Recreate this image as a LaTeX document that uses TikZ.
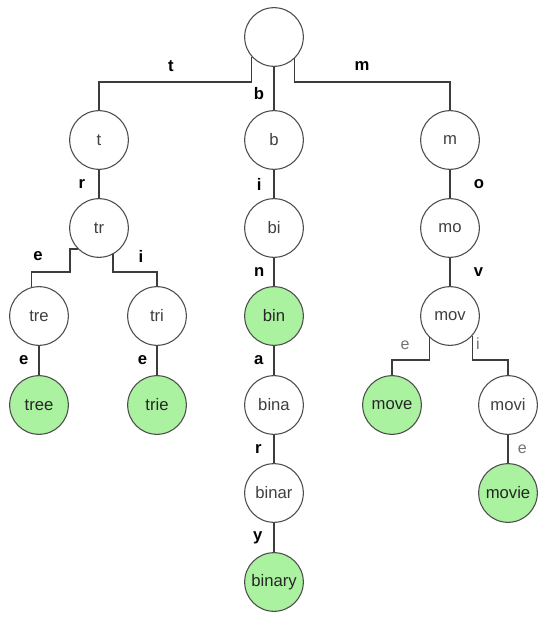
\documentclass[tikz,border=0pt]{standalone}
\usepackage{fontspec}
\setmainfont{Liberation Sans}
\usepackage{tikz}
\definecolor{wordgreen}{RGB}{170,242,160}
\definecolor{linkgray}{RGB}{60,60,60}

\begin{document}
\begin{tikzpicture}[x=0.75pt,y=-0.75pt]
	\tikzstyle{vertex}=[circle,draw=black!70,line width=0.8pt,fill=white,minimum size=44pt,inner sep=0pt,font=\fontsize{12.5}{14}\selectfont,text=black!75]
	\tikzstyle{word}=[vertex,fill=wordgreen,text=black!85]
	\tikzstyle{link}=[draw=linkgray,line width=1.1pt]
	\tikzstyle{letter}=[font=\fontsize{12.5}{14}\selectfont\bfseries,text=black]
	\tikzstyle{faint}=[font=\fontsize{12}{14}\selectfont,text=black!55]
	\useasboundingbox (0,0) rectangle (551,627);
	% the trie, row by row
	\node[vertex](root) at (274,37) {};
	\node[vertex](t) at (99,140) {t};
	\node[vertex](b) at (274,140) {b};
	\node[vertex](m) at (450,140) {m};
	\node[vertex](tr) at (99,228) {tr};
	\node[vertex](bi) at (274,228) {bi};
	\node[vertex](mo) at (450,228) {mo};
	\node[vertex](tre) at (39,316) {tre};
	\node[vertex](tri) at (157,316) {tri};
	\node[word](bin) at (274,316) {bin};
	\node[vertex](mov) at (450,316) {mov};
	\node[word](tree) at (39,405) {tree};
	\node[word](trie) at (157,405) {trie};
	\node[vertex](bina) at (274,405) {bina};
	\node[word](move) at (392,405) {move};
	\node[vertex](movi) at (508,405) {movi};
	\node[vertex](binar) at (274,493) {binar};
	\node[word](movie) at (508,493) {movie};
	\node[word](binary) at (274,582) {binary};
	\coordinate (rootbar) at (0,82);
	\coordinate (trbar) at (0,272);
	\coordinate (movbar) at (0,360);
	% straight links
	\path[link]
		(root) edge node[letter,left=3.5pt,pos=0.62]{b} (b)
		(t) edge node[letter,left=6.5pt]{r} (tr)
		(b) edge node[letter,left=5.5pt]{i} (bi)
		(m) edge node[letter,right=14pt]{o} (mo)
		(bi) edge node[letter,left=3.3pt]{n} (bin)
		(mo) edge node[letter,right=14pt]{v} (mov)
		(tre) edge node[letter,left=4pt]{e} (tree)
		(tri) edge node[letter,left=3.5pt]{e} (trie)
		(bin) edge node[letter,left=4pt]{a} (bina)
		(bina) edge node[letter,left=5.5pt]{r} (binar)
		(binar) edge node[letter,left=4.8pt]{y} (binary)
		(movi) edge node[faint,right=3.5pt]{e} (movie);
	% bent links
	\draw[link] (root.221) |- (t |- rootbar) -- (t);
	\draw[link] (root.314) |- (m |- rootbar) -- (m);
	\draw[link] (tr.225) -- ++(-8,0) |- (tre.105 |- trbar) -- (tre.105);
	\draw[link] (tr.298) |- (tri |- trbar) -- (tri);
	\draw[link] (mov.226) |- (move |- movbar) -- (move);
	\draw[link] (mov.319) |- (movi |- movbar) -- (movi);
	\node[letter](lt) at (171,66) {t};
	\node[letter](lm) at (362,66) {m};
	\node[letter](le) at (38,256) {e};
	\node[letter](li) at (141,256) {i};
	\node[faint](lmove) at (405,345) {e};
	\node[faint](lmovi) at (478,344) {i};
\end{tikzpicture}
\end{document}
